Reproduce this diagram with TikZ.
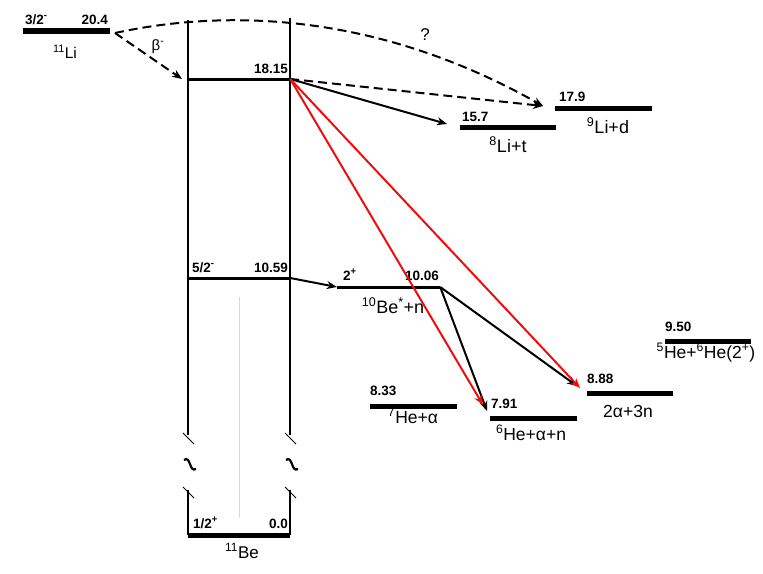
\documentclass[tikz,border=0pt]{standalone}
\usepackage{fontspec}
\setmainfont{Liberation Sans}
\usetikzlibrary{arrows.meta}
\definecolor{arrred}{RGB}{232,16,16}
\begin{document}
\begin{tikzpicture}[x=1pt,y=-1pt,
  lvl/.style={fill=black,inner sep=0pt,minimum height=5pt},
  thinlvl/.style={fill=black,inner sep=0pt,minimum height=3pt},
  axisline/.style={line width=1.3pt},
  en/.style={font=\fontsize{13.5}{15}\selectfont\bfseries,inner sep=0pt},
  nm/.style={font=\fontsize{18}{21}\selectfont,inner sep=0pt,anchor=base},
  nms/.style={font=\fontsize{17.5}{20}\selectfont,inner sep=0pt,anchor=base},
  arr/.style={line width=2pt,-{Stealth[length=10pt,width=8pt]}},
  dsh/.style={arr,dash pattern=on 9pt off 5pt},
  redarr/.style={arr,draw=arrred,-{Stealth[length=10pt,width=8pt,color=arrred]}}
]
\useasboundingbox (0,0) rectangle (763,573);

% vertical frame of 11Be
\draw[axisline] (188,20) -- (188,435);
\draw[axisline] (290,18) -- (290,435);
\draw[axisline] (188,490) -- (188,535);
\draw[axisline] (290,490) -- (290,535);
\foreach \xx in {188,290}{
  \draw[line width=1pt] (\xx-5,433) -- (\xx+6,444);
  \draw[line width=1pt] (\xx-5,487) -- (\xx+6,498);
  \draw[line width=2.2pt] (\xx-4,460) .. controls (\xx+3,455) and (\xx+1,473) .. (\xx+8,469);
}
\draw[black!15,line width=0.8pt] (239,297) -- (239,518);

% levels
\node[lvl,minimum width=87pt,minimum height=6pt] (Li11) at (66.5,31) {};
\node[thinlvl,minimum width=102pt] (L1815) at (239,79) {};
\node[thinlvl,minimum width=102pt] (L1059) at (239,278) {};
\node[lvl,minimum width=102pt] (Be0) at (239,535) {};
\node[thinlvl,minimum width=103pt] (L1006) at (388.5,287) {};
\node[lvl,minimum width=96pt] (L157) at (508,127) {};
\node[lvl,minimum width=97pt] (L179) at (603.5,108.5) {};
\node[lvl,minimum width=86pt] (L950) at (708,341) {};
\node[lvl,minimum width=86pt] (L888) at (630,393) {};
\node[lvl,minimum width=87pt] (L833) at (413.5,406) {};
\node[lvl,minimum width=87pt] (L791) at (533.5,418) {};

% free ends
\coordinate (LiR) at (115,33);
\coordinate (betaEnd) at (182,79);
\coordinate (e179) at (543,106);
\coordinate (e157) at (447,124);
\coordinate (r791) at (483,405);
\coordinate (r888) at (580,388);
\coordinate (b791) at (487,411);
\coordinate (b888) at (577,386);

% labels
\node[en,anchor=base west] (jLi) at (25,24) {3/2\textsuperscript{-}};
\node[en,anchor=base east] (eLi) at (108,24) {20.4};
\node[font=\fontsize{15.5}{18}\selectfont,inner sep=0pt,anchor=base] (nLi) at (65,58) {\textsuperscript{11}Li};
\node[font=\fontsize{15}{17}\selectfont,inner sep=0pt,anchor=base] (beta) at (158,50) {β\textsuperscript{-}};
\node[font=\fontsize{17}{19}\selectfont,inner sep=0pt] (qm) at (425,35) {?};
\node[en,anchor=base east] (e1815) at (288,73) {18.15};
\node[en,anchor=base west] (j1059) at (192,272) {5/2\textsuperscript{-}};
\node[en,anchor=base east] (e1059) at (288,272) {10.59};
\node[en,anchor=base west] (j1006) at (343,280) {2\textsuperscript{+}};
\node[en,anchor=base east] (e1006) at (439,280) {10.06};
\node[nm] (n1006) at (393,313) {\textsuperscript{10}Be\textsuperscript{*}+n};
\node[en,anchor=base west] (e157t) at (462,121) {15.7};
\node[nm] (n157) at (508,152) {\textsuperscript{8}Li+t};
\node[en,anchor=base west] (e179t) at (559,101) {17.9};
\node[nm] (n179) at (608,133) {\textsuperscript{9}Li+d};
\node[en,anchor=base west] (e950) at (665,331) {9.50};
\node[nms] (n950) at (706,358) {\textsuperscript{5}He+\textsuperscript{6}He(2\textsuperscript{+})};
\node[en,anchor=base west] (e888) at (587,383) {8.88};
\node[nms] (n888) at (628,417) {2α+3n};
\node[en,anchor=base west] (e833) at (370,395) {8.33};
\node[nms] (n833) at (413,423) {\textsuperscript{7}He+α};
\node[en,anchor=base west] (e791) at (491,408) {7.91};
\node[nms] (n791) at (531,440) {\textsuperscript{6}He+α+n};
\node[en,anchor=base west] (jBe) at (193,528) {1/2\textsuperscript{+}};
\node[en,anchor=base east] (eBe) at (288,528) {0.0};
\node[font=\fontsize{17}{19}\selectfont,inner sep=0pt,anchor=base] (nBe) at (242,558) {\textsuperscript{11}Be};

% transitions
\draw[dsh] (LiR) -- (betaEnd);
\draw[dsh] (LiR) .. controls (230,8) and (380,14) .. (e179);
\draw[dsh] (L1815.east) -- (e179);
\draw[arr] (L1815.east) -- (e157);
\draw[arr] (L1059.east) -- (L1006.west);
\draw[arr] (L1006.east) -- (b791);
\draw[arr] (L1006.east) -- (b888);
\draw[redarr] (L1815.east) -- (r791);
\draw[redarr] (L1815.east) -- (r888);
\end{tikzpicture}
\end{document}
